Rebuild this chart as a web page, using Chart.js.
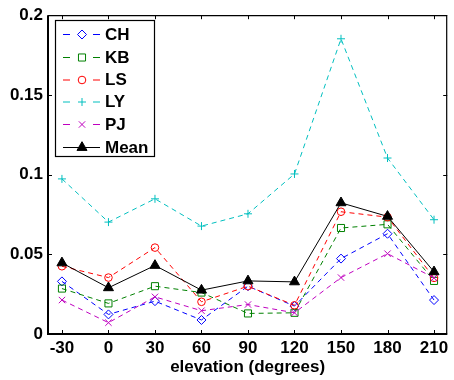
<!DOCTYPE html>
<html><head><meta charset="utf-8">
<script src="https://cdn.jsdelivr.net/npm/chart.js@4"></script>
<style>html,body{margin:0;padding:0;background:#fff}#c{display:block}</style>
</head><body>
<canvas id="c" width="454" height="380"></canvas>
<script>
// ---- data ----
const elevation = [-30, 0, 30, 60, 90, 120, 150, 180, 210];
const xTickValues = [-30, 0, 30, 60, 90, 120, 150, 180, 210];
const xTickLabels = ['-30', '0', '30', '60', '90', '120', '150', '180', '210'];
const yTickValues = [0, 0.05, 0.1, 0.15, 0.2];
const yTickLabels = ['0', '0.05', '0.1', '0.15', '0.2'];
const CH   = [0.0330, 0.0123, 0.0206, 0.0088, 0.0300, 0.0175, 0.0473, 0.0629, 0.0213];
const KB   = [0.0285, 0.0192, 0.0300, 0.0260, 0.0129, 0.0133, 0.0665, 0.0688, 0.0333];
const LS   = [0.0425, 0.0354, 0.0542, 0.0202, 0.0300, 0.0180, 0.0767, 0.0733, 0.0352];
const LY   = [0.0973, 0.0702, 0.0848, 0.0677, 0.0754, 0.1004, 0.1852, 0.1104, 0.0717];
const PJ   = [0.0213, 0.0071, 0.0233, 0.0146, 0.0185, 0.0133, 0.0354, 0.0504, 0.0352];
const Mean = [0.0446, 0.0290, 0.0430, 0.0275, 0.0333, 0.0327, 0.0823, 0.0738, 0.0390];
const seriesNames = ['CH', 'KB', 'LS', 'LY', 'PJ', 'Mean'];
const seriesValues = [CH, KB, LS, LY, PJ, Mean];
const xTitle = 'elevation (degrees)';

// ---- styles ----
const styles = [
  {color:'#0000ff', point:'rectRot',  r:4.5, dash:[5,4], fill:false},
  {color:'#008000', point:'rect',     r:5,   dash:[5,4], fill:false},
  {color:'#ff0000', point:'circle',   r:3.8, dash:[5,4], fill:false},
  {color:'#00bfbf', point:'cross',    r:4,   dash:[5,4], fill:false},
  {color:'#bf00bf', point:'crossRot', r:4.5, dash:[5,4], fill:false},
  {color:'#000000', point:'triangle', r:5.8, dash:[],    fill:true}
];
const FONT = {family:"'Liberation Sans', Arial, Helvetica, sans-serif", size:17, weight:'bold'};

const datasets = seriesNames.map((name, i) => ({
  label: name,
  data: elevation.map((x, j) => ({x: x, y: seriesValues[i][j]})),
  showLine: true,
  borderColor: styles[i].color,
  borderWidth: 1,
  borderDash: styles[i].dash,
  pointStyle: styles[i].point,
  pointRadius: styles[i].r,
  pointBorderWidth: 1,
  pointBorderColor: styles[i].color,
  pointBackgroundColor: styles[i].fill ? styles[i].color : 'rgba(0,0,0,0)',
  tension: 0,
  order: seriesNames.length - i
}));

function drawMarker(ctx, st, x, y) {
  ctx.strokeStyle = st.color;
  ctx.fillStyle = st.fill ? st.color : 'rgba(0,0,0,0)';
  ctx.lineWidth = 1;
  ctx.setLineDash([]);
  if (Chart.helpers && Chart.helpers.drawPoint) {
    Chart.helpers.drawPoint(ctx, {pointStyle: st.point, radius: st.r, rotation: 0, borderWidth: 1}, x, y);
    return;
  }
  ctx.beginPath();
  ctx.arc(x, y, st.r, 0, Math.PI * 2);
  if (st.fill) ctx.fill();
  ctx.stroke();
}

const framePlugin = {
  id: 'frame',
  afterDraw(chart) {
    const {ctx, chartArea: a, scales: {x, y}} = chart;
    ctx.save();
    ctx.strokeStyle = '#000';
    ctx.lineWidth = 1;
    ctx.setLineDash([]);
    const L = 4;
    ctx.beginPath();
    x.ticks.forEach(t => {
      const px = Math.round(x.getPixelForValue(t.value)) + 0.5;
      ctx.moveTo(px, a.bottom); ctx.lineTo(px, a.bottom - L);
      ctx.moveTo(px, a.top); ctx.lineTo(px, a.top + L);
    });
    y.ticks.forEach(t => {
      const py = Math.round(y.getPixelForValue(t.value)) + 0.5;
      ctx.moveTo(a.left, py); ctx.lineTo(a.left + L, py);
      ctx.moveTo(a.right, py); ctx.lineTo(a.right - L, py);
    });
    ctx.stroke();
    ctx.lineWidth = 1.2;
    ctx.beginPath();
    ctx.moveTo(a.left, a.top + 0.5); ctx.lineTo(a.right, a.top + 0.5);
    ctx.moveTo(a.right - 0.5, a.top); ctx.lineTo(a.right - 0.5, a.bottom);
    ctx.stroke();
    ctx.lineWidth = 2;
    ctx.beginPath();
    ctx.moveTo(a.left, a.top); ctx.lineTo(a.left, a.bottom + 1);
    ctx.moveTo(a.left - 1, a.bottom); ctx.lineTo(a.right, a.bottom);
    ctx.stroke();

    // legend
    const bx = 55.5, by = 20.5, bw = 99, bh = 136;
    ctx.fillStyle = '#fff';
    ctx.fillRect(bx, by, bw, bh);
    ctx.lineWidth = 1.2;
    ctx.strokeStyle = '#000';
    ctx.strokeRect(bx, by, bw, bh);
    const rows = [34, 57, 79.5, 101.5, 124, 147];
    ctx.font = `${FONT.weight} ${FONT.size}px ${FONT.family}`;
    ctx.textBaseline = 'middle';
    ctx.textAlign = 'left';
    seriesNames.forEach((name, i) => {
      const st = styles[i];
      const ry = rows[i];
      ctx.strokeStyle = st.color;
      ctx.lineWidth = 1;
      ctx.setLineDash(st.dash.length ? [7, 23] : []);
      ctx.beginPath();
      ctx.moveTo(63, ry + 0.5); ctx.lineTo(100, ry + 0.5);
      ctx.stroke();
      drawMarker(ctx, st, 82, ry + 0.5);
      ctx.fillStyle = '#000';
      ctx.fillText(name, 105, ry + 1);
    });
    ctx.restore();
  }
};

Chart.defaults.color = '#000';
new Chart(document.getElementById('c'), {
  type: 'scatter',
  data: {datasets},
  options: {
    responsive: false,
    animation: false,
    events: [],
    layout: {padding: {top: 14, right: 1, left: 0, bottom: 0}},
    plugins: {legend: {display: false}, tooltip: {enabled: false}},
    scales: {
      x: {
        type: 'linear', min: -39, max: 218.5,
        grid: {display: false, drawTicks: false},
        border: {display: false},
        afterBuildTicks: s => { s.ticks = xTickValues.map(v => ({value: v})); },
        afterFit: s => { s.height = 46; },
        ticks: {font: FONT, padding: 4, maxRotation: 0, autoSkip: false,
                callback: (v, i) => xTickLabels[i]},
        title: {display: true, text: xTitle, font: FONT, padding: {top: 0, bottom: 2.5}}
      },
      y: {
        type: 'linear', min: 0, max: 0.2,
        grid: {display: false, drawTicks: false},
        border: {display: false},
        afterBuildTicks: s => { s.ticks = yTickValues.map(v => ({value: v})); },
        afterFit: s => { s.width = 48; },
        ticks: {font: FONT, padding: 5, autoSkip: false,
                callback: (v, i) => yTickLabels[i]}
      }
    }
  },
  plugins: [framePlugin]
});
</script>
</body></html>
